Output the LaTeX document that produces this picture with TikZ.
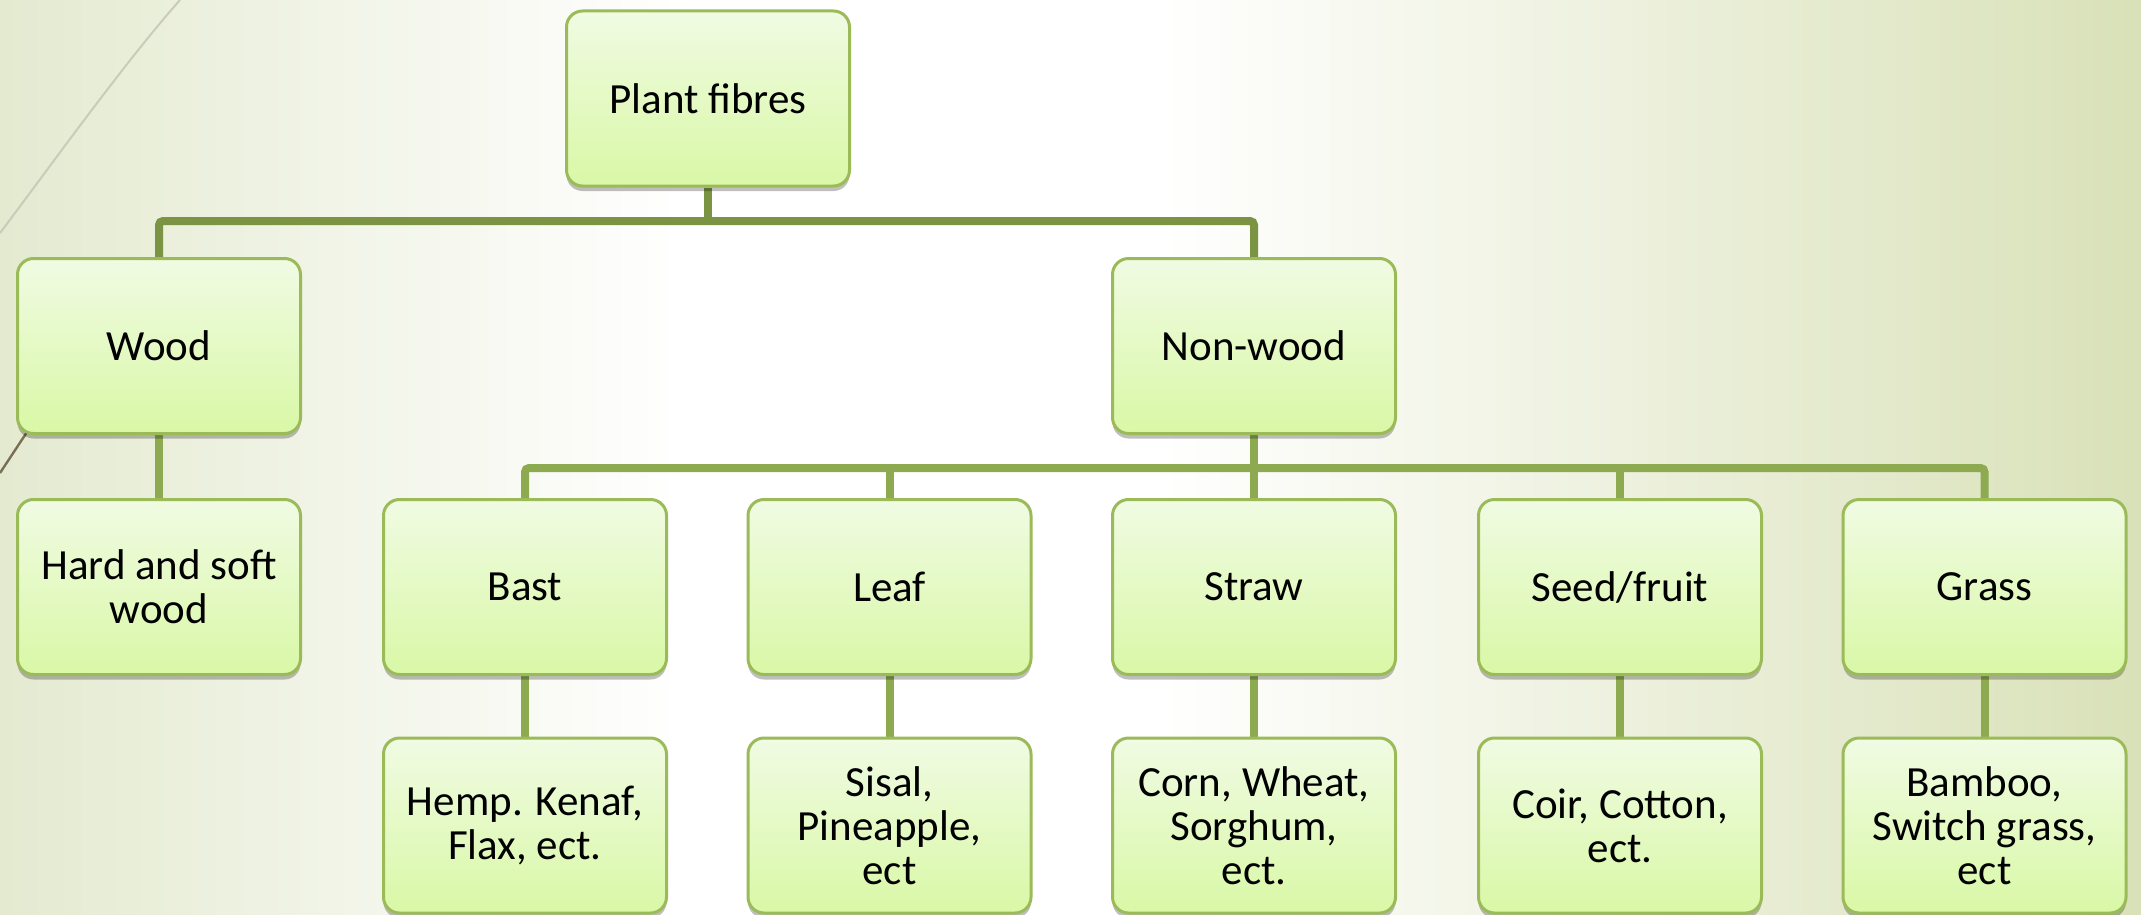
\documentclass[tikz,border=0pt]{standalone}
\usepackage{fontspec}
\setmainfont{Carlito}
\usetikzlibrary{shadows,backgrounds}
\definecolor{bgL}{HTML}{E4EAD0}
\definecolor{bgR}{HTML}{D9E1B8}
\definecolor{boxtop}{HTML}{F0FBE3}
\definecolor{boxbot}{HTML}{D9F8A6}
\definecolor{boxborder}{HTML}{9BBB59}
\definecolor{busdark}{HTML}{7A9444}
\definecolor{buslight}{HTML}{8DAA50}
\definecolor{arcgray}{HTML}{C9CCB8}
\definecolor{arcbrown}{HTML}{7A6E55}
% TikZ maps 25bp..75bp of a shading onto the path
\pgfdeclarehorizontalshading{bgshade}{100bp}{color(0bp)=(bgL); color(25bp)=(bgL); color(41bp)=(white); color(52bp)=(white); color(75bp)=(bgR); color(100bp)=(bgR)}
\begin{document}
\begin{tikzpicture}[x=0.5pt,y=-0.5pt,
  box/.style={rounded corners=8pt, draw=boxborder, line width=1.5pt,
    top color=boxtop, bottom color=boxbot,
    minimum width=141.5pt, minimum height=87.5pt, inner sep=0pt,
    align=center, text=black, font=\fontsize{21.5}{22}\selectfont,
    drop shadow={shadow xshift=0pt, shadow yshift=-2.5pt, opacity=0.25, fill=black}},
  conn/.style={line width=4pt, draw=buslight, rounded corners=2pt},
  conndark/.style={conn, draw=busdark}]
\useasboundingbox (0,0) rectangle (2141,915);
% row 1
\node[box] (plant) at (708,98.5) {Plant fibres};
% row 2
\node[box] (wood) at (159,346) {Wood};
\node[box] (nonwood) at (1254,346) {Non-wood};
% row 3
\node[box] (hard) at (159,587) {Hard and soft\\wood};
\node[box] (bast) at (525,587) {Bast};
\node[box] (leaf) at (889.5,587) {Leaf};
\node[box] (straw) at (1254,587) {Straw};
\node[box] (seed) at (1620,587) {Seed/fruit};
\node[box] (grass) at (1984.5,587) {Grass};
% row 4
\node[box] (hemp) at (525,825.5) {Hemp. Kenaf,\\Flax, ect.};
\node[box] (sisal) at (889.5,825.5) {Sisal,\\Pineapple,\\ect};
\node[box] (corn) at (1254,825.5) {Corn, Wheat,\\Sorghum,\\ect.};
\node[box] (coir) at (1620,825.5) {Coir, Cotton,\\ect.};
\node[box] (bamboo) at (1984.5,825.5) {Bamboo,\\Switch grass,\\ect};
\coordinate (bus1) at (0,221);
\coordinate (bus2) at (0,468);
\begin{scope}[on background layer]
  \shade[shading=bgshade] (0,0) rectangle (2141,915);
  \draw[arcgray, line width=1pt] (180,0) .. controls (125,62) and (55,160) .. (0,233);
  \draw[arcbrown, line width=1.2pt] (0,473) -- (60,382);
  % top level
  \draw[conndark] (plant.south) -- (plant.south |- bus1);
  \draw[conndark] (wood.north) |- (nonwood.north |- bus1) -- (nonwood.north);
  % wood branch
  \draw[conn] (wood.south) -- (hard.north);
  % non-wood branch
  \draw[conn] (nonwood.south) -- (nonwood.south |- bus2);
  \draw[conn] (bast.north) |- (grass.north |- bus2) -- (grass.north);
  \draw[conn] (leaf.north) -- (leaf.north |- bus2);
  \draw[conn] (straw.north) -- (straw.north |- bus2);
  \draw[conn] (seed.north) -- (seed.north |- bus2);
  % leaves
  \draw[conn] (bast.south) -- (hemp.north);
  \draw[conn] (leaf.south) -- (sisal.north);
  \draw[conn] (straw.south) -- (corn.north);
  \draw[conn] (seed.south) -- (coir.north);
  \draw[conn] (grass.south) -- (bamboo.north);
\end{scope}
\end{tikzpicture}
\end{document}
